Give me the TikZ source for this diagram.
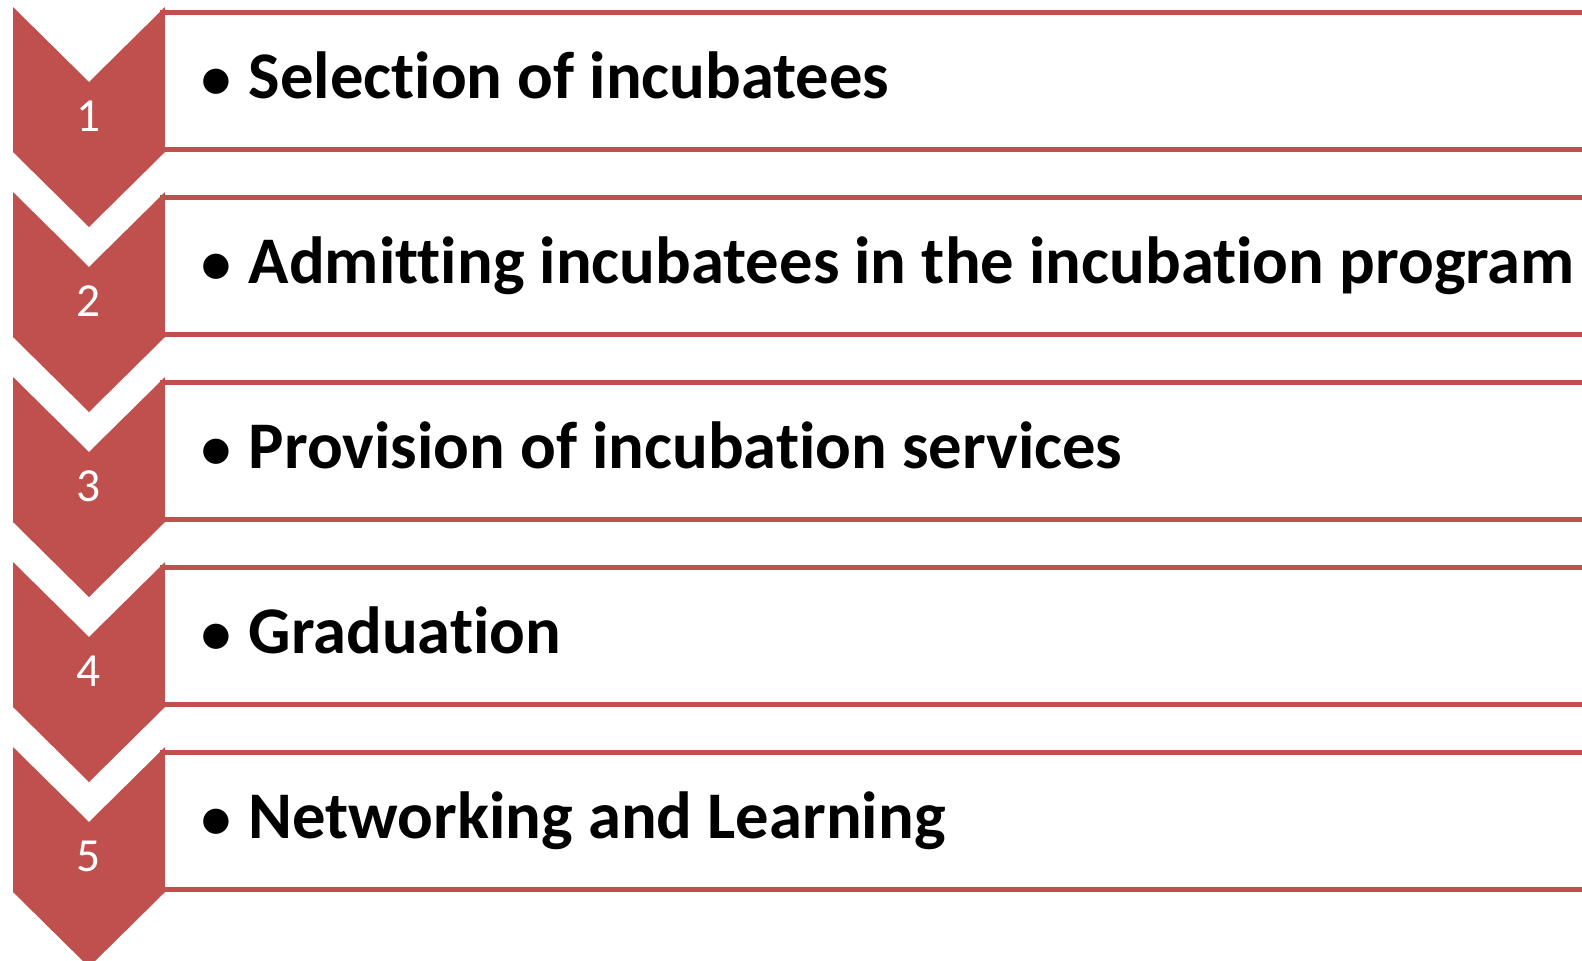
\documentclass[tikz,border=0pt]{standalone}
\usepackage{fontspec}
\setmainfont{Carlito}[RawFeature=-liga]
\definecolor{chevred}{HTML}{C0504D}

\begin{document}
\begin{tikzpicture}[x=0.01cm, y=-0.01cm,
  numtxt/.style={text=white, inner sep=0pt, font=\fontsize{13.5}{16}\selectfont},
  steptxt/.style={anchor=base west, inner sep=0pt, font=\bfseries\fontsize{18.95}{22}\selectfont},
  stepbox/.style={draw=chevred, line width=1.42pt, fill=white}]
\useasboundingbox (0,0) rectangle (1582,960);
\clip (0,0) rectangle (1582,960);
% chevrons with numbers, then the boxes with the steps
\foreach \i/\txt in {1/Selection of incubatees,
                     2/Admitting incubatees in the incubation program,
                     3/Provision of incubation services,
                     4/Graduation,
                     5/Networking and Learning} {
    \pgfmathsetmacro{\t}{7+185*(\i-1)}
    \fill[chevred] (13,\t) -- (89,\t+75) -- (165,\t) -- (165,\t+145)
        -- (89,\t+220) -- (13,\t+145) -- cycle;
    \node[numtxt] (n\i) at (89,\t+109) {\i};
    \draw[stepbox] (162.5,\t+5.5) rectangle (1620,\t+142.5);
    \node[steptxt] (s\i) at (248,\t+91) {\llap{{\fontsize{17}{20}\selectfont\textbullet}\hspace{0.26em}}\txt};
}
\end{tikzpicture}
\end{document}
